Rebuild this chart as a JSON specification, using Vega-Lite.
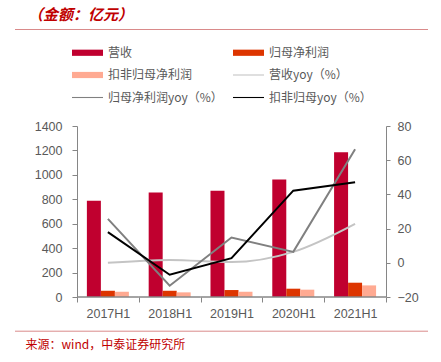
{
  "$schema": "https://vega.github.io/schema/vega-lite/v6.json",
  "width": 413,
  "height": 171,
  "autosize": {"type": "none"},
  "padding": {"left": 15, "top": 126, "right": 13, "bottom": 65},
  "background": "white",
  "title": {
    "text": "（金额：亿元）",
    "anchor": "start",
    "frame": "group",
    "font": "Noto Sans CJK SC",
    "fontSize": 15,
    "fontWeight": "bold",
    "fontStyle": "italic",
    "color": "#C00000",
    "dx": 13,
    "offset": 6
  },
  "data": {
    "values": [
      {"year": "2017H1", "series": "营收", "value": 787},
      {"year": "2018H1", "series": "营收", "value": 855},
      {"year": "2019H1", "series": "营收", "value": 869},
      {"year": "2020H1", "series": "营收", "value": 962},
      {"year": "2021H1", "series": "营收", "value": 1185},
      {"year": "2017H1", "series": "归母净利润", "value": 51},
      {"year": "2018H1", "series": "归母净利润", "value": 51},
      {"year": "2019H1", "series": "归母净利润", "value": 57},
      {"year": "2020H1", "series": "归母净利润", "value": 68},
      {"year": "2021H1", "series": "归母净利润", "value": 117},
      {"year": "2017H1", "series": "扣非归母净利润", "value": 43},
      {"year": "2018H1", "series": "扣非归母净利润", "value": 38},
      {"year": "2019H1", "series": "扣非归母净利润", "value": 43},
      {"year": "2020H1", "series": "扣非归母净利润", "value": 60},
      {"year": "2021H1", "series": "扣非归母净利润", "value": 95},
      {"year": "2017H1", "series": "营收yoy（%）", "value": 0.0},
      {"year": "2018H1", "series": "营收yoy（%）", "value": 1.7},
      {"year": "2019H1", "series": "营收yoy（%）", "value": 0.4},
      {"year": "2020H1", "series": "营收yoy（%）", "value": 6.4},
      {"year": "2021H1", "series": "营收yoy（%）", "value": 22.8},
      {"year": "2017H1", "series": "归母净利润yoy（%）", "value": 25.7},
      {"year": "2018H1", "series": "归母净利润yoy（%）", "value": -13.4},
      {"year": "2019H1", "series": "归母净利润yoy（%）", "value": 14.8},
      {"year": "2020H1", "series": "归母净利润yoy（%）", "value": 6.4},
      {"year": "2021H1", "series": "归母净利润yoy（%）", "value": 66.4},
      {"year": "2017H1", "series": "扣非归母yoy（%）", "value": 17.9},
      {"year": "2018H1", "series": "扣非归母yoy（%）", "value": -7.0},
      {"year": "2019H1", "series": "扣非归母yoy（%）", "value": 2.7},
      {"year": "2020H1", "series": "扣非归母yoy（%）", "value": 42.2},
      {"year": "2021H1", "series": "扣非归母yoy（%）", "value": 47.1}
    ]
  },
  "resolve": {"scale": {"y": "independent"}},
  "layer": [
    {
      "transform": [{"filter": {"field": "series", "oneOf": ["营收", "归母净利润", "扣非归母净利润"]}}],
      "mark": {"type": "bar"},
      "encoding": {
        "x": {
          "field": "year",
          "type": "nominal",
          "scale": {"paddingInner": 0, "paddingOuter": 0.8414, "align": 0.596},
          "axis": {
            "title": "来源：wind，中泰证券研究所",
            "domain": false,
            "tickBand": "extent",
            "tickSize": 5,
            "labelAngle": 0,
            "labelPadding": 5,
            "titleAnchor": "start",
            "titleAlign": "left",
            "titleBaseline": "middle",
            "titleX": 10,
            "titleY": 47,
            "titleColor": "#C00000",
            "titleFont": "Noto Sans CJK SC",
            "titleFontSize": 12,
            "titleFontWeight": "normal"
          }
        },
        "xOffset": {
          "field": "series",
          "type": "nominal",
          "sort": ["营收", "归母净利润", "扣非归母净利润"],
          "scale": {"domain": ["营收", "归母净利润", "扣非归母净利润"], "paddingInner": 0, "paddingOuter": 0.707}
        },
        "y": {
          "field": "value",
          "type": "quantitative",
          "scale": {"domain": [0, 1400], "nice": false, "zero": false},
          "axis": {
            "orient": "left",
            "title": null,
            "values": [0, 200, 400, 600, 800, 1000, 1200, 1400],
            "format": "d",
            "labelOverlap": false,
            "labelSeparation": 0,
            "labelFlush": false,
            "labelBound": false,
            "offset": -62,
            "tickSize": 5,
            "labelPadding": 10
          }
        },
        "color": {
          "field": "series",
          "type": "nominal",
          "scale": {
            "domain": ["营收", "扣非归母净利润", "归母净利润yoy（%）", "归母净利润", "营收yoy（%）", "扣非归母yoy（%）"],
            "range": ["#C0002F", "#FFAA92", "#808080", "#DD3500", "#C4C4C4", "#000000"]
          },
          "legend": {
            "orient": "none",
            "legendX": 57,
            "legendY": -89,
            "columns": 2,
            "columnPadding": 10,
            "rowPadding": 0.5,
            "padding": 0,
            "title": null,
            "symbolType": "square",
            "symbolSize": 961,
            "labelFont": "Noto Sans CJK SC",
            "labelFontSize": 12,
            "labelColor": "#595959",
            "labelOffset": 5,
            "labelLimit": 300,
            "encode": {
              "symbols": {
                "update": {
                  "shape": {"signal": "indexof(['营收','归母净利润','扣非归母净利润'], datum.value) >= 0 ? 'M-1,-0.2H1V0.2H-1Z' : 'M-1,-0.035H1V0.035H-1Z'"},
                  "fill": {"signal": "scale('color', datum.value)"},
                  "stroke": {"value": null},
                  "strokeWidth": {"value": 0},
                  "opacity": {"value": 1},
                  "fillOpacity": {"value": 1}
                }
              }
            }
          }
        }
      }
    },
    {
      "layer": [
        {
          "transform": [{"filter": {"field": "series", "equal": "营收yoy（%）"}}],
          "mark": {"type": "line", "strokeWidth": 2, "interpolate": "monotone"},
          "encoding": {
            "x": {"field": "year", "type": "nominal"},
            "y": {
              "field": "value",
              "type": "quantitative",
              "scale": {"domain": [-20, 80], "nice": false, "zero": false},
              "axis": {"orient": "right", "title": null, "values": [-20, -10, 0, 10, 20, 30, 40, 50, 60, 70, 80], "tickCount": 10, "format": "d", "labelOverlap": false}
            },
            "color": {"field": "series", "type": "nominal"}
          }
        },
        {
          "transform": [{"filter": {"field": "series", "oneOf": ["归母净利润yoy（%）", "扣非归母yoy（%）"]}}],
          "mark": {"type": "line", "strokeWidth": 2},
          "encoding": {
            "x": {"field": "year", "type": "nominal"},
            "y": {
              "field": "value",
              "type": "quantitative",
              "axis": {"orient": "right", "title": null, "values": [-20, -10, 0, 10, 20, 30, 40, 50, 60, 70, 80], "tickCount": 10, "format": "d", "labelOverlap": false}
            },
            "color": {"field": "series", "type": "nominal"}
          }
        }
      ]
    },
    {
      "layer": [
        {
          "transform": [{"filter": {"field": "series", "equal": "营收"}}],
          "mark": {"type": "bar", "fillOpacity": 0, "stroke": "#868686", "strokeWidth": 1},
          "encoding": {
            "x": {"field": "year", "type": "nominal"},
            "y": {"datum": 0, "type": "quantitative", "axis": null, "scale": {"domain": [0, 1400], "nice": false, "zero": false}},
            "y2": {"datum": 0}
          }
        },
        {
          "data": {"values": [{}]},
          "mark": {"type": "rule", "color": "#D98A8A", "strokeWidth": 1},
          "encoding": {"y": {"datum": 2190, "type": "quantitative", "axis": null}}
        },
        {
          "data": {"values": [{}]},
          "mark": {"type": "rule", "color": "#D98A8A", "strokeWidth": 1},
          "encoding": {"y": {"datum": -280, "type": "quantitative", "axis": null}}
        }
      ]
    }
  ],
  "config": {
    "view": {"stroke": null},
    "axis": {
      "grid": false,
      "labelOverlap": false,
      "labelFont": "Liberation Sans",
      "labelFontSize": 12.5,
      "labelColor": "#595959",
      "domainColor": "#868686",
      "tickColor": "#868686"
    },
    "axisRight": {"offset": -42, "tickSize": 4, "labelPadding": 7, "labelOverlap": false}
  }
}
